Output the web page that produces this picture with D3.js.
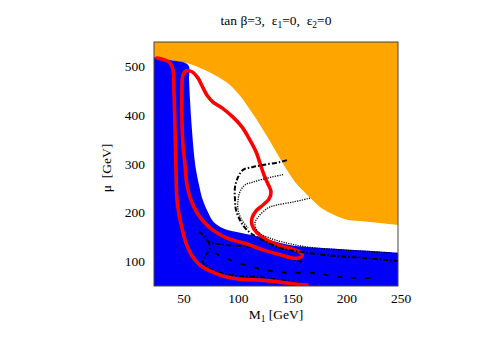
<!DOCTYPE html>
<html><head><meta charset="utf-8">
<script src="https://cdn.jsdelivr.net/npm/d3@7"></script>
<style>body{margin:0;background:#fff}svg{display:block}text{font-family:"Liberation Serif","Times New Roman",serif;fill:#000}</style>
</head><body><svg id="c" width="491" height="343"></svg>
<script>
// ---- data (M1 [GeV], mu [GeV]) ----
const xTicks = [50, 100, 150, 200, 250];
const yTicks = [100, 200, 300, 400, 500];
// excluded region (orange) lower boundary
const orangeM1 = [25,40,58,77,95,106,113.5,120,125.5,135,142,147.5,155,162.5,171,178,187,201,215,233,250];
const orangeMu = [519,513,505,487,462,435,411,390,370,335,308,288,263,245,226,212,200,187,183,179,175];
// blue region upper/right boundary
const blueM1 = [25,40,56.5,57.3,58.2,60,62,63.7,66.5,70,75,80,88,100,120,135,150,166,196,224,250];
const blueMu = [519,513,503,472,431,370,318,288,257,226,200,181,169,161,152,142,134,130,126,122,118];
// red outer contour
const redAM1 = [27.8,35.1,39.8,42.5,43.4,44.4,45.3,46.2,48.1,50.8,54.5,60,67.4,76.6,87.7,104.3,122.7,141.2,155,166.1];
const redAMu = [517,513,507,493,452,370,288,226,196,169,138,112,93,81,71,64,62,58,54,52];
// red closed contour
const loopM1 = [54.5,51.7,50.8,50.8,51.7,53.6,55.4,59.1,64.7,72,80.3,92.3,110.8,125.5,141.2,153.2,160.5,161.5,155,142.1,129.2,120,115.4,115.4,119.1,125.5,131,132.9,130.1,126.4,122.7,119.1,113.5,106.1,97.8,87.7,79.4,73.9,69.3,65.6,60];
const loopMu = [491,482,452,390,339,298,257,226,200,179,163,148,136,124,114,107,109,116,124,132,144,159,175,189,204,216,228,243,259,278,302,325,349,376,396,415,427,441,460,476,489];
// black dash-dot contour
const ddM1 = [147.6,141.2,125.5,116.3,107.1,102.5,99.7,99.7,100.6,104.3,108.9,116.3,129.2,141.2,159.6,190.1,221.4,250];
const ddMu = [308,304,298,294,288,273,253,226,206,185,169,155,140,128,120,112,107,101];
// black dotted contours
const dot1M1 = [143.9,129.2,116.3,108.9,104.3,102.5,102.5,106.1,111.7];
const dot1Mu = [278,271,263,257,243,226,206,185,169];
const dot2M1 = [168.8,153.2,138.4,130.1,120.9,118.1,120.9,132,147.6,166.1,196.5,224.2,250];
const dot2Mu = [230,222,216,210,191,179,161,148,138,130,124,120,116];
// black dashed contours inside blue region
const fM1 = [66.5,71.1,74.8,90.5,116.3,132,147.6,162.4];
const fMu = [161,153,142,134,130,120,107,99];
const gM1 = [81.2,88.6,108.9,132,150.4,171.6,196.5,230.6];
const gMu = [118,109,93,81,77,77,68,66];
const hM1 = [74.8,76.6,72.9,70.2,73.9,83.1,97.8,122.7,141.2,159.6];
const hMu = [142,128,114,99,89,79,72,68,62,56];

// ---- drawing ----
const svg = d3.select("#c");
const L = 154, R = 398, T = 42, B = 286;
const x = d3.scaleLinear().domain([25, 250]).range([L, R]);
const y = d3.scaleLinear().domain([50, 550]).range([B, T]);
const zip = (a, b) => a.map((v, i) => [v, b[i]]);
const line = d3.line().x(d => x(d[0])).y(d => y(d[1])).curve(d3.curveCatmullRom.alpha(0.5));
const lineClosed = d3.line().x(d => x(d[0])).y(d => y(d[1])).curve(d3.curveCatmullRomClosed.alpha(0.5));

svg.append("clipPath").attr("id", "clip").append("rect")
  .attr("x", L).attr("y", T).attr("width", R - L).attr("height", B - T);
const g = svg.append("g").attr("clip-path", "url(#clip)");

// orange region
g.append("path")
  .attr("d", line(zip(orangeM1, orangeMu)) + `L${x(250)},${y(550)}L${x(25)},${y(550)}Z`)
  .attr("fill", "#ffa500");
// blue region
g.append("path")
  .attr("d", line(zip(blueM1, blueMu)) + `L${x(250)},${y(50)}L${x(25)},${y(50)}Z`)
  .attr("fill", "#0000f8");

// black lines in blue
const blk = (m, u, w, dash) => g.append("path").attr("d", line(zip(m, u)))
  .attr("fill", "none").attr("stroke", "#000").attr("stroke-width", w).attr("stroke-dasharray", dash);
blk(fM1, fMu, 1.8, "5,2,1.5,2");
blk(gM1, gMu, 1.8, "5,9");
blk(hM1, hMu, 1.8, "5,2,1.5,2");

// red contours
g.append("path").attr("d", line(zip(redAM1, redAMu)))
  .attr("fill", "none").attr("stroke", "#ff0000").attr("stroke-width", 3.6).attr("stroke-linecap", "round");
g.append("path").attr("d", lineClosed(zip(loopM1, loopMu)))
  .attr("fill", "none").attr("stroke", "#ff0000").attr("stroke-width", 3.6);

// black dash-dot and dotted contours
blk(ddM1, ddMu, 2, "5,2,1.5,2");
blk(dot1M1, dot1Mu, 1.3, "1.2,1.2");
blk(dot2M1, dot2Mu, 1.3, "1.2,1.2");

// frame
svg.append("rect").attr("x", L).attr("y", T).attr("width", R - L).attr("height", B - T)
  .attr("fill", "none").attr("stroke", "#444").attr("stroke-width", 1);

// tick labels
svg.append("g").selectAll("text").data(xTicks).join("text")
  .attr("x", d => x(d) + 3).attr("y", 303).attr("text-anchor", "middle")
  .attr("font-size", 13.5).text(d => d);
svg.append("g").selectAll("text").data(yTicks).join("text")
  .attr("x", 145).attr("y", d => y(d) + 4.5).attr("text-anchor", "end")
  .attr("font-size", 13.5).text(d => d);

// axis titles
const xl = svg.append("text").attr("x", 276).attr("y", 319).attr("text-anchor", "middle").attr("font-size", 13.5);
xl.append("tspan").text("M");
xl.append("tspan").attr("dy", 3).attr("font-size", 9.5).text("1");
xl.append("tspan").attr("dy", -3).text("  [GeV]");
svg.append("text").attr("transform", "translate(111,168) rotate(-90)")
  .attr("text-anchor", "middle").attr("font-size", 13.5).attr("xml:space", "preserve").text("μ  [GeV]");

// title
const t = svg.append("text").attr("x", 276).attr("y", 25).attr("text-anchor", "middle")
  .attr("font-size", 13.5).attr("xml:space", "preserve");
t.append("tspan").text("tan β=3,  ε");
t.append("tspan").attr("dy", 3).attr("font-size", 9.5).text("1");
t.append("tspan").attr("dy", -3).text("=0,  ε");
t.append("tspan").attr("dy", 3).attr("font-size", 9.5).text("2");
t.append("tspan").attr("dy", -3).text("=0");
</script></body></html>
